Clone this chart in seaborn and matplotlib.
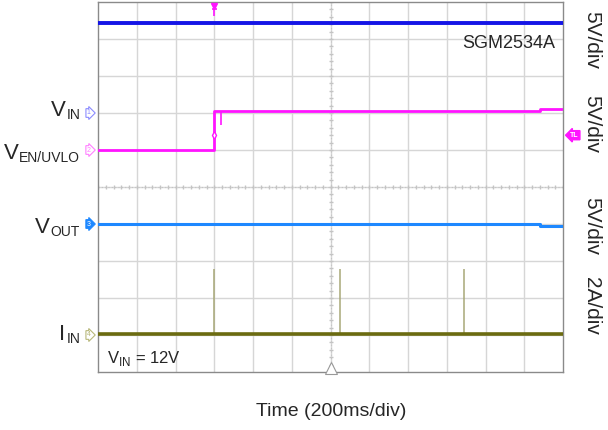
import numpy as np
import pandas as pd
import seaborn as sns
import matplotlib.pyplot as plt

# scope screen in divisions: x 0..12 (200ms/div), y 0..10
vin_t = [0, 12]
vin_v = [9.43, 9.43]

en_t = [0, 3.0, 3.0, 11.4, 11.4, 12]
en_v = [6.0, 6.0, 7.05, 7.05, 7.1, 7.1]
en_glitch_t = [3.17]
en_glitch_lo = [6.68]

vout_t = [0, 11.4, 11.4, 12]
vout_v = [4.0, 4.0, 3.95, 3.95]

iin_t = [0, 12]
iin_v = [1.03, 1.03]
spike_t = [3.0, 6.24, 9.44]
spike_top = [2.78, 2.78, 2.78]

ch_levels = [7.0, 6.0, 4.0, 1.0]
ch_names = ['1', '2', '3', '4']
ch_colors = ['#8c8cff', '#ff80ff', '#1e88ff', '#b8b87a']
ch_fill = ['white', 'white', '#1e88ff', 'white']
lab_main = ['V', 'V', 'V', 'I']
lab_sub = ['IN', 'EN/UVLO', 'OUT', 'IN']
lab_base_px = [116, 159, 233, 340]
scale_labels = ['5V/div', '5V/div', '5V/div', '2A/div']
scale_px = [40, 124, 226, 306]

sns.set_style('white')
plt.rcParams['font.family'] = ['Liberation Sans', 'DejaVu Sans']
plt.rcParams['mathtext.fontset'] = 'custom'
plt.rcParams['mathtext.rm'] = 'Liberation Sans'

fig = plt.figure(figsize=(6.08, 4.30), dpi=100)
ax = fig.add_axes([98 / 608, 58 / 430, 465 / 608, 370 / 430])
px2div = lambda p: (372 - p) / 37.0

# grid
for i in range(1, 12):
    ax.axvline(i, color='#d6d6d6', lw=1, zorder=0)
for j in range(1, 10):
    ax.axhline(j, color='#d6d6d6', lw=1, zorder=0)
ax.axvline(6, color='#c4c4c4', lw=0.8, ls=(0, (1, 2)), zorder=0)
ax.axhline(5, color='#c4c4c4', lw=0.8, ls=(0, (1, 2)), zorder=0)
ticks = np.arange(0, 12.01, 0.2)
ax.plot(ticks, np.full_like(ticks, 5), ls='none', marker='|', ms=3, color='#c4c4c4', zorder=0)
ticks_y = np.arange(0, 10.01, 0.2)
ax.plot(np.full_like(ticks_y, 6), ticks_y, ls='none', marker='_', ms=3, color='#c4c4c4', zorder=0)

# traces
sns.lineplot(x=vin_t, y=vin_v, ax=ax, color='#1414e6', lw=2.8, sort=False, estimator=None, zorder=3)
sns.lineplot(x=en_t, y=en_v, ax=ax, color='#ff14ff', lw=2.0, sort=False, estimator=None, zorder=3)
ax.vlines(en_glitch_t, en_glitch_lo, en_v[2], color='#ff14ff', lw=1.2, zorder=3)
sns.lineplot(x=vout_t, y=vout_v, ax=ax, color='#1e88ff', lw=2.2, sort=False, estimator=None, zorder=3)
ax.vlines(spike_t, iin_v[0], spike_top, color='#a8a878', lw=1.1, zorder=3)
sns.lineplot(x=iin_t, y=iin_v, ax=ax, color='#6b6b10', lw=2.6, sort=False, estimator=None, zorder=4)

ax.set_xlim(0, 12)
ax.set_ylim(0, 10)
ax.set_xticks([])
ax.set_yticks([])
for s in ax.spines.values():
    s.set_color('#8a8a8a')
    s.set_linewidth(1)

# channel markers and labels on the left
renderer = fig.canvas.get_renderer()
for lvl, nm, col, fc, m, sub, bp in zip(ch_levels, ch_names, ch_colors, ch_fill,
                                        lab_main, lab_sub, lab_base_px):
    ax.text(-0.24, lvl, nm, ha='center', va='center', fontsize=5,
            color=col if fc == 'white' else 'white',
            bbox=dict(boxstyle='rarrow,pad=0.12', fc=fc, ec=col, lw=0.8), clip_on=False)
    base = px2div(bp)
    st = ax.annotate(sub, xy=(-0.46, base), xytext=(0, -3 * 0.72), textcoords='offset points',
                     ha='right', va='baseline', fontsize=10, annotation_clip=False)
    w = st.get_window_extent(renderer).width * 72 / 100
    ax.annotate(m, xy=(-0.46, base), xytext=(-w - 0.5, 0), textcoords='offset points',
                ha='right', va='baseline', fontsize=16, annotation_clip=False)

# right side scales
for p, lab in zip(scale_px, scale_labels):
    ax.text(12.74, px2div(p), lab, rotation=-90, ha='center', va='center', fontsize=15, clip_on=False)

# trigger markers
ax.plot([3.0], [9.9], marker='v', ms=5, color='#ff14ff', clip_on=False, zorder=5)
ax.vlines([3.0], 9.62, 9.8, color='#ff14ff', lw=1.2, zorder=5)
ax.hlines([9.8], 2.93, 3.07, color='#ff14ff', lw=1.2, zorder=5)
ax.plot([3.0], [6.4], marker='d', ms=4, mfc='white', mec='#ff14ff', zorder=5)
ax.text(12.3, 6.4, 'TL', ha='center', va='center', fontsize=5, color='white', fontweight='bold',
        bbox=dict(boxstyle='larrow,pad=0.15', fc='#ff14ff', ec='#ff14ff'), clip_on=False)
ax.plot([6.0], [0.12], marker='^', ms=8, mfc='white', mec='#999999', mew=0.8, clip_on=False, zorder=5)

ax.text(11.8, px2div(43), 'SGM2534A', ha='right', va='center', fontsize=13)
ax.text(0.24, px2div(358), 'V$_{\\mathregular{IN}}$ = 12V', ha='left', va='center', fontsize=12)

fig.text(331 / 608, 1 - 411 / 430, 'Time (200ms/div)', ha='center', va='center', fontsize=14)

fig.savefig('out.png', dpi=100)
